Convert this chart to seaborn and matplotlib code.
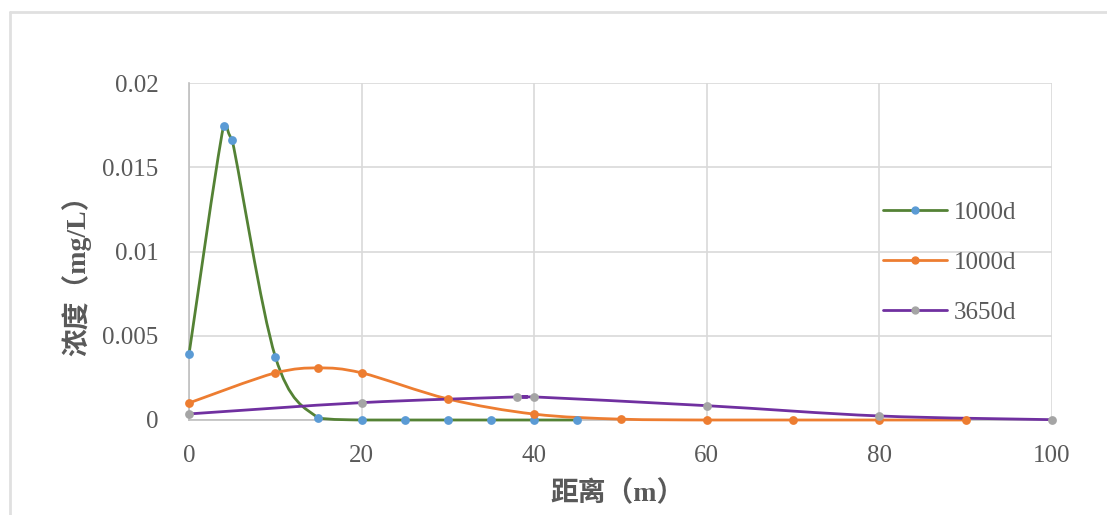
import numpy as np
import pandas as pd
import matplotlib
matplotlib.use("Agg")
import matplotlib.pyplot as plt
import seaborn as sns
from matplotlib.path import Path
from matplotlib.patches import PathPatch
from matplotlib.lines import Line2D

# data
x_a = [0, 4, 5, 10, 15, 20, 25, 30, 35, 40, 45]
y_a = [0.0039, 0.01745, 0.01662, 0.00376, 0.00012, 0, 0, 0, 0, 0, 0]
x_b = [0, 10, 15, 20, 30, 40, 50, 60, 70, 80, 90]
y_b = [0.00101, 0.0028, 0.00309, 0.0028, 0.00125, 0.00035, 0.00005, 0, 0, 0, 0]
x_c = [0, 20, 38, 40, 60, 80, 100]
y_c = [0.00036, 0.00103, 0.00137, 0.00137, 0.00085, 0.00024, 0.00002]
series_names = ["1000d", "1000d", "3650d"]
x_ticks = [0, 20, 40, 60, 80, 100]
y_ticks = [0, 0.005, 0.01, 0.015, 0.02]
y_tick_labels = ["0", "0.005", "0.01", "0.015", "0.02"]

line_colors = ["#548235", "#ED7D31", "#7030A0"]
marker_colors = ["#5B9BD5", "#ED7D31", "#A5A5A5"]
text_color = "#595959"

sns.set_style("white")
plt.rcParams["font.family"] = ["Liberation Serif", "Noto Sans CJK SC"]

fig = plt.figure(figsize=(11.07, 5.15), dpi=100)
ax = fig.add_axes([189 / 1107, 1 - 420 / 515, (1052 - 189) / 1107, (420 - 83) / 515])


def smooth_path(xs, ys):
    # smoothed line like Excel: Catmull-Rom as cubic Bezier, control points kept
    # within each segment's y range so short segments don't overshoot
    pts = np.column_stack([xs, ys]).astype(float)
    verts = [pts[0]]
    codes = [Path.MOVETO]
    n = len(pts)
    for i in range(n - 1):
        p0 = pts[i - 1] if i > 0 else pts[i]
        p1 = pts[i]
        p2 = pts[i + 1]
        p3 = pts[i + 2] if i + 2 < n else pts[i + 1]
        c1 = p1 + (p2 - p0) / 6
        c2 = p2 - (p3 - p1) / 6
        lo, hi = min(p1[1], p2[1]), max(p1[1], p2[1])
        c1[1] = np.clip(c1[1], lo, hi)
        c2[1] = np.clip(c2[1], lo, hi)
        verts += [c1, c2, p2]
        codes += [Path.CURVE4] * 3
    return Path(verts, codes)


all_series = [(x_a, y_a), (x_b, y_b), (x_c, y_c)]
for (xs, ys), lc, mc in zip(all_series, line_colors, marker_colors):
    ax.add_patch(PathPatch(smooth_path(xs, ys), facecolor="none", edgecolor=lc, lw=2,
                           zorder=3, clip_on=False))
    df = pd.DataFrame({"x": xs, "y": ys})
    sns.scatterplot(data=df, x="x", y="y", ax=ax, color=mc, s=40, edgecolor=mc,
                    linewidth=0, zorder=4, clip_on=False)

ax.set_xlim(0, 100)
ax.set_ylim(0, 0.02)
ax.set_xticks(x_ticks)
ax.set_yticks(y_ticks)
ax.set_yticklabels(y_tick_labels)
ax.tick_params(axis="both", length=0, labelsize=18, colors=text_color)
ax.tick_params(axis="y", pad=22)
ax.tick_params(axis="x", pad=18)
ax.grid(True, color="#d9d9d9", linewidth=1.2)
ax.set_axisbelow(True)
for side in ["top", "right"]:
    ax.spines[side].set_visible(False)
for side in ["left", "bottom"]:
    ax.spines[side].set_color("#bfbfbf")
    ax.spines[side].set_linewidth(1.2)

ax.set_xlabel("距离（m）", fontsize=20, fontweight="bold", color=text_color)
ax.set_ylabel("浓度（mg/L）", fontsize=20, fontweight="bold", color=text_color)
ax.xaxis.set_label_coords(0.497, -0.18)
ax.yaxis.set_label_coords(-0.113, 0.45)

handles = [
    Line2D([0], [0], color=lc, lw=2, marker="o", markersize=5,
           markerfacecolor=mc, markeredgecolor=mc)
    for lc, mc in zip(line_colors, marker_colors)
]
leg = ax.legend(handles, series_names, loc="center left", bbox_to_anchor=(0.778, 0.466),
                frameon=False, fontsize=18, labelspacing=1.1, handlelength=2.55,
                handletextpad=0.3)
for t in leg.get_texts():
    t.set_color(text_color)

# outer chart-area border
fig.add_artist(Line2D([10 / 1107, 10 / 1107], [0, 1 - 12 / 515], transform=fig.transFigure,
                      color="#e0e0e0", lw=2))
fig.add_artist(Line2D([10 / 1107, 1], [1 - 12 / 515, 1 - 12 / 515], transform=fig.transFigure,
                      color="#e0e0e0", lw=2))

fig.savefig("out.png", dpi=100)
